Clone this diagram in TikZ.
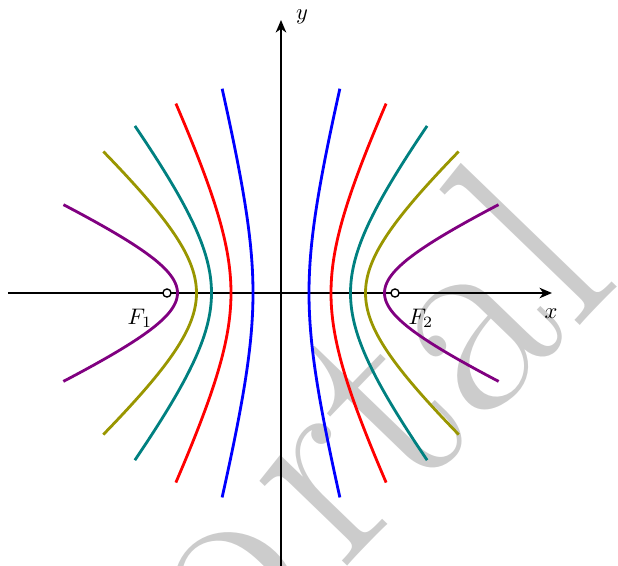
\documentclass[tikz,border=0pt]{standalone}
\usetikzlibrary{arrows.meta}
\definecolor{hpurple}{RGB}{128,0,128}
\definecolor{holive}{RGB}{153,150,0}
\definecolor{hteal}{RGB}{0,128,128}
\definecolor{hred}{RGB}{255,0,0}
\definecolor{hblue}{RGB}{0,0,255}
\definecolor{wmgray}{RGB}{204,204,204}
\begin{document}
\begin{tikzpicture}[x=0.4444pt,y=0.4444pt,
  hyp/.style={line width=1.25pt},
  axis/.style={line width=1.3pt,-{Stealth[length=5.5pt,width=4.6pt,inset=1.6pt]}},
  focus/.style={circle,draw,fill=white,inner sep=0pt,minimum size=3.6pt,line width=0.6pt},
  lab/.style={inner sep=1pt}]
\useasboundingbox (-281,-272) rectangle (337,293);
\begin{scope}
\clip (-281,-272) rectangle (337,293);
\node[text=wmgray,rotate=46,anchor=base east,inner sep=0pt,font=\fontsize{127}{133}\selectfont] (wm) at (342,12) {Po\kern0.08em rtal};
\end{scope}
% axes
\coordinate (xs) at (-273,0);
\coordinate (xe) at (271,0);
\coordinate (ys) at (0,-275);
\coordinate (ye) at (0,273);
\draw[axis] (xs) -- (xe);
\draw[axis] (ys) -- (ye);
% hyperbolas
\foreach \a/\b/\c in {28/110.5/hblue, 50/102.45/hred, 69.5/90.37/hteal, 84.5/76.52/holive, 103.5/47.79/hpurple}{
  \draw[hyp,\c] plot[domain=-1.3745:1.3745,samples=80,variable=\t] ({\a*cosh(\t)},{\b*sinh(\t)});
  \draw[hyp,\c] plot[domain=-1.3745:1.3745,samples=80,variable=\t] ({-\a*cosh(\t)},{\b*sinh(\t)});
}
% foci
\node[focus] (f1) at (-114,0) {};
\node[focus] (f2) at (114,0) {};
\node[lab] (lf1) at (-141,-25) {$F_1$};
\node[lab] (lf2) at (140,-25) {$F_2$};
\node[lab] (lx) at (270,-21) {$x$};
\node[lab] (ly) at (21,276) {$y$};
\end{tikzpicture}
\end{document}
